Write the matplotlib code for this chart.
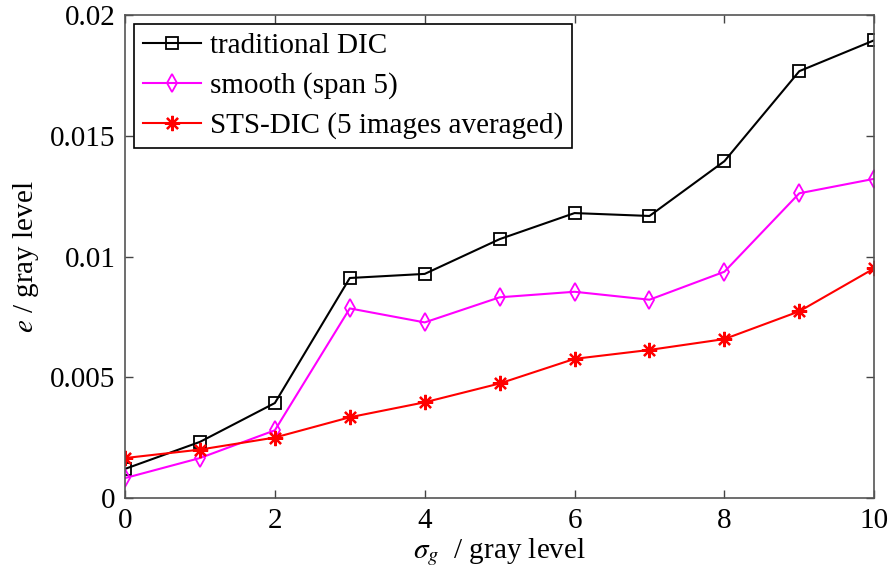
import matplotlib
matplotlib.use('Agg')
import matplotlib.pyplot as plt

# data
sigma_g = [0, 1, 2, 3, 4, 5, 6, 7, 8, 9, 10]
trad_dic = [0.0012, 0.00232, 0.00393, 0.00911, 0.00928, 0.01072, 0.0118, 0.01168, 0.01395, 0.01768, 0.01896]
smooth5 = [0.00082, 0.00165, 0.0028, 0.00785, 0.00727, 0.00831, 0.00854, 0.00821, 0.00937, 0.01262, 0.01322]
sts_dic = [0.00165, 0.002, 0.0025, 0.00334, 0.00396, 0.00474, 0.00576, 0.00613, 0.00658, 0.00773, 0.00951]

plt.rcParams['font.family'] = ['Liberation Serif', 'DejaVu Serif']
plt.rcParams['mathtext.fontset'] = 'stix'

fig = plt.figure(figsize=(8.93, 5.83), dpi=100)
ax = fig.add_axes([0.140, 0.146, 0.839, 0.828])

ax.plot(sigma_g, trad_dic, color='black', marker='s', markersize=8, markerfacecolor='none',
        markeredgewidth=1.3, linewidth=1.5, label='traditional DIC')
ax.plot(sigma_g, smooth5, color='#ff00ff', marker='d', markersize=9, markerfacecolor='none',
        markeredgewidth=1.3, linewidth=1.5, label='smooth (span 5)')
ax.plot(sigma_g, sts_dic, color='red', marker=(8, 2, 0), markersize=11, markeredgewidth=1.6,
        linewidth=1.5, label='STS-DIC (5 images averaged)')

ax.set_xlim(0, 10)
ax.set_ylim(0, 0.02)
ax.set_xticks([0, 2, 4, 6, 8, 10])
ax.set_yticks([0, 0.005, 0.01, 0.015, 0.02])
ax.set_yticklabels(['0', '0.005', '0.01', '0.015', '0.02'])

ax.tick_params(direction='in', top=True, right=True, labelsize=21, length=6, width=1, colors='#444444',
               labelcolor='black', pad=7)
for s in ax.spines.values():
    s.set_color('#555555')
    s.set_linewidth(1.2)

ax.set_xlabel(r'$\sigma_g$  / gray level', fontsize=21, labelpad=2)
ax.set_ylabel(r'$e$ / gray level', fontsize=21, labelpad=6)

leg = ax.legend(loc='upper left', fontsize=21, fancybox=False, edgecolor='black', framealpha=1,
                borderpad=0.3, labelspacing=0.45, handlelength=2.0, handletextpad=0.3,
                borderaxespad=0.3)
leg.get_frame().set_linewidth(1.2)

plt.savefig('out.png', dpi=100)
plt.close()
